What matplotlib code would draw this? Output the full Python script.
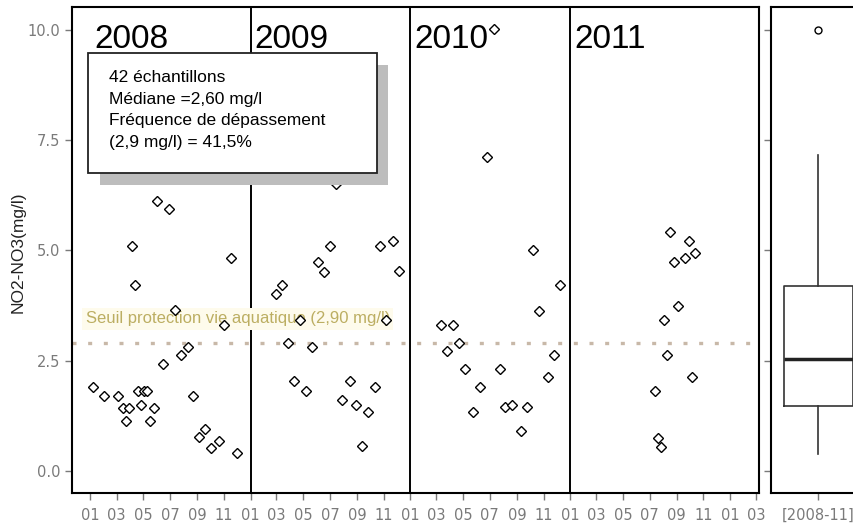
import pandas as pd
import matplotlib
matplotlib.use('Agg')
import matplotlib.pyplot as plt
import matplotlib.dates as mdates
from matplotlib.patches import Rectangle

# Données (NO2-NO3 en mg/l)
dates_2008 = ['2008-01-07', '2008-02-02', '2008-03-03', '2008-03-16', '2008-03-23', '2008-03-30',
              '2008-04-06', '2008-04-13', '2008-04-19', '2008-04-26', '2008-05-02', '2008-05-10',
              '2008-05-17', '2008-05-25', '2008-05-31', '2008-06-15', '2008-06-28', '2008-07-12',
              '2008-07-26', '2008-08-10', '2008-08-23', '2008-09-05', '2008-09-19', '2008-10-03',
              '2008-10-21', '2008-11-02', '2008-11-16', '2008-11-30']
vals_2008 = [1.91, 1.71, 1.71, 1.43, 1.13, 1.43, 5.11, 4.21, 1.81, 1.50, 1.81, 1.81,
             1.13, 1.43, 6.13, 2.43, 5.93, 3.64, 2.64, 2.81, 1.71, 0.78, 0.96, 0.51,
             0.68, 3.32, 4.83, 0.40]

dates_2009 = ['2009-02-28', '2009-03-13', '2009-03-28', '2009-04-10', '2009-04-24', '2009-05-08',
              '2009-05-22', '2009-06-04', '2009-06-18', '2009-07-01', '2009-07-15', '2009-07-29',
              '2009-08-15', '2009-08-30', '2009-09-13', '2009-09-26', '2009-10-11', '2009-10-24',
              '2009-11-07', '2009-11-21', '2009-12-05']
vals_2009 = [4.01, 4.22, 2.91, 2.03, 3.42, 1.81, 2.81, 4.73, 4.52, 5.11, 6.51, 1.61,
             2.03, 1.50, 0.57, 1.33, 1.91, 5.11, 3.42, 5.22, 4.53]

dates_2010 = ['2010-03-11', '2010-03-25', '2010-04-08', '2010-04-22', '2010-05-06', '2010-05-23',
              '2010-06-08', '2010-06-25', '2010-07-10', '2010-07-24', '2010-08-06', '2010-08-21',
              '2010-09-11', '2010-09-24', '2010-10-07', '2010-10-21', '2010-11-12', '2010-11-24',
              '2010-12-08']
vals_2010 = [3.32, 2.71, 3.32, 2.91, 2.32, 1.33, 1.91, 7.13, 10.02, 2.32, 1.44, 1.50,
             0.91, 1.44, 5.00, 3.63, 2.12, 2.64, 4.21]

dates_2011 = ['2011-07-13', '2011-07-20', '2011-07-27', '2011-08-04', '2011-08-10', '2011-08-17',
              '2011-08-25', '2011-09-03', '2011-09-21', '2011-09-28', '2011-10-06', '2011-10-12']
vals_2011 = [1.81, 0.75, 0.54, 3.42, 2.64, 5.41, 4.73, 3.73, 4.83, 5.21, 2.12, 4.94]

annees = ['2008', '2009', '2010', '2011']
seuil = 2.9
seuil_label = 'Seuil protection vie aquatique (2,90 mg/l)'
texte_stats = ['42 échantillons', 'Médiane =2,60 mg/l', 'Fréquence de dépassement',
               '(2,9 mg/l) = 41,5%']

# Boîte à moustaches 2008-11
box_label = '[2008-11]'
box_q1, box_med, box_q3 = 1.47, 2.54, 4.19
box_whislo, box_whishi = 0.38, 7.16
box_fliers = [10.0]

W, H = 854, 523
fig = plt.figure(figsize=(W / 100, H / 100), dpi=100)
plt.rcParams['font.family'] = ['Liberation Sans', 'DejaVu Sans']

def fx(px):
    return px / W

def fy(py):
    return 1 - py / H

grey = '#7a7a7a'
ax = fig.add_axes([fx(72), fy(493), fx(759 - 72), (493 - 7) / H])
axb = fig.add_axes([fx(771), fy(493), fx(866 - 771), (493 - 7) / H])

dates = pd.to_datetime(dates_2008 + dates_2009 + dates_2010 + dates_2011)
vals = vals_2008 + vals_2009 + vals_2010 + vals_2011

ax.plot(dates, vals, linestyle='none', marker='D', markersize=5, markerfacecolor='white',
        markeredgecolor='black', markeredgewidth=1.0, zorder=4)

# séparation des années
for a in annees[1:]:
    ax.axvline(pd.Timestamp(a + '-01-01'), color='black', linewidth=1.4, zorder=3)
for a in annees:
    ax.annotate(a, (mdates.date2num(pd.Timestamp(a + '-01-01')), 9.6), xytext=(3, 0),
                textcoords='offset points', fontsize=24, va='baseline', ha='left', zorder=5)

# seuil
ax.axhline(seuil, color='#c8b8a8', linestyle=(0, (1.2, 3.5)), linewidth=2.4, zorder=2)
ax.text(mdates.date2num(pd.Timestamp('2007-12-21')), 3.45, seuil_label, fontsize=12,
        color='#bcae62', va='center', ha='left', zorder=3,
        bbox=dict(boxstyle='square,pad=0.2', facecolor='#fefbec', edgecolor='none'))

ax.set_xlim(pd.Timestamp('2007-11-20'), pd.Timestamp('2012-03-07'))
ax.set_ylim(-0.5, 10.52)
ax.set_yticks([0, 2.5, 5, 7.5, 10])
ax.set_yticklabels(['0.0', '2.5', '5.0', '7.5', '10.0'])
ax.xaxis.set_major_locator(mdates.MonthLocator(bymonth=[1, 3, 5, 7, 9, 11]))
ax.xaxis.set_major_formatter(mdates.DateFormatter('%m'))
ax.tick_params(axis='both', colors=grey, length=5, width=1, direction='out')
ax.tick_params(axis='x', pad=6)
for lab in ax.get_xticklabels() + ax.get_yticklabels():
    lab.set_family('DejaVu Sans')
    lab.set_fontsize(10.5)
for s in ax.spines.values():
    s.set_linewidth(1.5)
fig.text(fx(18), fy(252), 'NO2-NO3(mg/l)', fontsize=12.5, rotation=90,
         ha='center', va='center', color='#222222')

# boxplot
stats = [dict(label=box_label, med=box_med, q1=box_q1, q3=box_q3,
              whislo=box_whislo, whishi=box_whishi, fliers=box_fliers)]
axb.bxp(stats, positions=[0], widths=0.73, showcaps=False,
        boxprops=dict(color='#333333', linewidth=1.2),
        whiskerprops=dict(color='#333333', linewidth=1.2),
        medianprops=dict(color='#222222', linewidth=2.5),
        flierprops=dict(marker='o', markersize=5, markerfacecolor='white',
                        markeredgecolor='black', markeredgewidth=1.0))
axb.set_xlim(-0.5, 0.5)
axb.set_ylim(-0.5, 10.52)
axb.set_yticks([0, 2.5, 5, 7.5, 10])
axb.set_yticklabels([])
axb.tick_params(axis='both', colors=grey, length=5, width=1)
axb.tick_params(axis='x', pad=6)
for lab in axb.get_xticklabels():
    lab.set_family('DejaVu Sans')
    lab.set_fontsize(10.5)
for s in axb.spines.values():
    s.set_linewidth(1.5)

# encadré de statistiques avec ombre
fig.add_artist(Rectangle((fx(100), fy(185)), fx(388 - 100), (185 - 65) / H,
                         transform=fig.transFigure, facecolor='#bdbdbd', edgecolor='none', zorder=6))
fig.add_artist(Rectangle((fx(88), fy(173)), fx(377 - 88), (173 - 53) / H,
                         transform=fig.transFigure, facecolor='white', edgecolor='#222222',
                         linewidth=1.3, zorder=7))
for i, ligne in enumerate(texte_stats):
    fig.text(fx(109), fy(82 + i * 21.7), ligne, fontsize=12.5, va='baseline', ha='left', zorder=8)

plt.savefig('out.png', dpi=100)
plt.close()
